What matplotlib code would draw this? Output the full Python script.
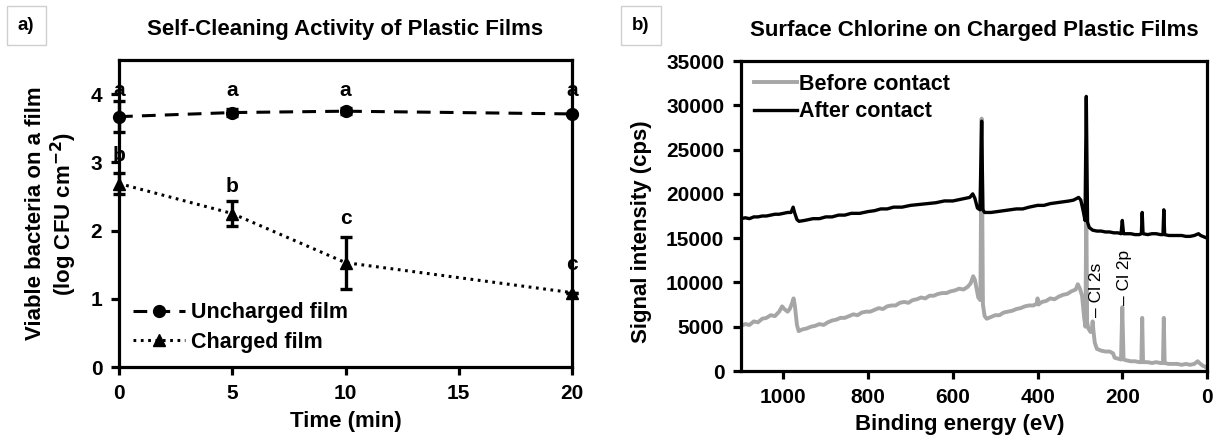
import matplotlib.pyplot as plt
import numpy as np

plt.rcParams['font.family'] = ['Liberation Sans', 'DejaVu Sans']
plt.rcParams['font.weight'] = 'bold'
plt.rcParams['axes.labelweight'] = 'bold'
plt.rcParams['mathtext.default'] = 'bf'

# (a) viable bacteria vs. contact time
time_min = [0, 5, 10, 20]
uncharged = [3.67, 3.73, 3.75, 3.71]
uncharged_err = [0.23, 0.05, 0.04, 0.0]
charged = [2.69, 2.25, 1.53, 1.09]
charged_err = [0.15, 0.18, 0.38, 0.0]
letters_unch = ['a', 'a', 'a', 'a']
letters_unch_y = [4.05, 4.05, 4.05, 4.05]
letters_ch = ['b', 'b', 'c', 'c']
letters_ch_y = [3.1, 2.65, 2.17, 1.5]

# (b) XPS survey spectra, binding energy (eV) vs counts
be_before = [1100, 1090, 1080, 1070, 1060, 1050, 1040, 1030, 1020, 1010, 1003, 998, 990, 985,
             980, 976, 973, 968, 964, 955, 945, 935, 925, 915, 905, 895, 885, 875, 865, 855,
             845, 835, 825, 815, 805, 795, 785, 775, 765, 755, 745, 735, 725, 715, 705, 695,
             685, 675, 665, 655, 645, 635, 625, 615, 605, 595, 585, 575, 565, 558, 552, 548,
             540, 535, 532, 529, 525, 520, 510, 500, 490, 480, 470, 460, 450, 440, 430, 420,
             410, 402, 400, 398, 390, 380, 370, 360, 350, 340, 330, 320, 310, 305, 300, 295,
             290, 287, 285, 283, 280, 275, 272, 270, 268, 265, 260, 250, 240, 230, 222, 218,
             210, 203, 200, 197, 190, 180, 170, 160, 155, 153, 151, 140, 130, 120, 110, 104,
             102, 100, 90, 80, 70, 60, 50, 40, 30, 22, 18, 10, 5, 0]
cps_before = [5100, 5300, 5200, 5600, 5500, 5900, 6000, 6300, 6200, 6700, 7300, 7000, 6700, 7000,
              7600, 8200, 7400, 5200, 4500, 4700, 4800, 5000, 5100, 5300, 5200, 5500, 5700, 5800,
              6000, 6000, 6200, 6400, 6300, 6600, 6700, 6700, 6900, 7100, 7000, 7300, 7400, 7400,
              7700, 7800, 7700, 8000, 8100, 8300, 8200, 8500, 8500, 8700, 8800, 8800, 9000, 9100,
              9300, 9200, 9500, 9900, 10700, 10300, 8300, 8000, 28500, 7500, 6200, 5900, 6100,
              6300, 6300, 6600, 6700, 6800, 7000, 7100, 7300, 7400, 7400, 7600, 8200, 7500, 7800,
              7900, 8200, 8100, 8400, 8600, 8700, 9000, 9200, 9800, 9300, 8500, 6000, 5000, 19000,
              5500, 4800, 4400, 4600, 5600, 4500, 3200, 2500, 2300, 2200, 2200, 2000, 1500, 1400,
              1300, 7200, 1300, 1200, 1100, 1100, 1000, 1000, 6000, 1000, 1000, 900, 1000, 900,
              900, 6000, 900, 800, 800, 800, 700, 800, 700, 800, 1100, 900, 600, 500, 300]

be_after = [1100, 1090, 1080, 1070, 1060, 1050, 1040, 1030, 1020, 1010, 1000, 990, 982, 977,
            973, 968, 963, 950, 940, 930, 915, 900, 885, 870, 855, 840, 820, 800, 785, 770,
            755, 740, 720, 700, 680, 660, 640, 620, 600, 580, 560, 553, 548, 542, 536, 532,
            529, 525, 510, 495, 480, 465, 450, 435, 420, 400, 385, 370, 355, 340, 325, 315,
            303, 298, 292, 288, 285, 282, 278, 270, 260, 250, 240, 230, 220, 210, 203, 200,
            197, 190, 180, 170, 160, 155, 153, 151, 140, 130, 120, 110, 104, 102, 100, 90,
            80, 70, 60, 50, 40, 30, 20, 15, 10, 5, 0]
cps_after = [17200, 17300, 17200, 17400, 17400, 17500, 17500, 17600, 17700, 17700, 17800, 17900,
             17900, 18500, 17800, 17100, 16900, 17000, 17100, 17200, 17200, 17400, 17400, 17600,
             17600, 17800, 17800, 18000, 18100, 18300, 18300, 18500, 18500, 18700, 18800, 18900,
             19000, 19200, 19200, 19400, 19600, 20000, 19500, 18400, 18200, 28200, 18200, 17900,
             17900, 18000, 18100, 18200, 18300, 18300, 18500, 18700, 18700, 18900, 19000, 19100,
             19200, 19300, 19600, 19300, 18000, 17000, 31000, 16800, 16200, 15900, 15800, 15800,
             15700, 15700, 15600, 15600, 15500, 17000, 15500, 15500, 15500, 15400, 15400, 15500,
             17900, 15500, 15400, 15500, 15500, 15400, 15400, 18200, 15400, 15300, 15300, 15300,
             15300, 15200, 15200, 15300, 15500, 15300, 15200, 15100, 15000]

fig = plt.figure(figsize=(12.17, 4.44), dpi=100)

# ---------- panel a ----------
ax1 = fig.add_axes([0.0978, 0.1734, 0.3722, 0.6914])
ax1.errorbar(time_min, uncharged, yerr=uncharged_err, color='black', ls='none', marker='none',
             capsize=4, elinewidth=2.4, capthick=2.4, clip_on=False, zorder=3)
ax1.errorbar(time_min, charged, yerr=charged_err, color='black', ls='none', marker='none',
             capsize=4, elinewidth=2.4, capthick=2.4, clip_on=False, zorder=3)
ax1.plot(time_min, uncharged, color='black', ls=(0, (4.5, 3)), lw=2.2, marker='o', ms=8.5,
         clip_on=False, zorder=4, label='Uncharged film')
ax1.plot(time_min, charged, color='black', ls=(0, (0.9, 1.5)), lw=2.2, marker='^', ms=9,
         clip_on=False, zorder=4, label='Charged film')
for x, y, s in zip(time_min, letters_unch_y, letters_unch):
    ax1.text(x, y, s, ha='center', va='center', fontsize=15, fontweight='bold')
for x, y, s in zip(time_min, letters_ch_y, letters_ch):
    ax1.text(x, y, s, ha='center', va='center', fontsize=15, fontweight='bold')

ax1.set_xlim(0, 20)
ax1.set_ylim(0, 4.5)
ax1.set_xticks([0, 5, 10, 15, 20])
ax1.set_yticks([0, 1, 2, 3, 4])
ax1.set_xlabel('Time (min)', fontsize=16, labelpad=6)
ax1.set_ylabel('Viable bacteria on a film\n(log CFU cm$^{-2}$)', fontsize=16, labelpad=8,
               linespacing=1.15)
ax1.set_title('Self-Cleaning Activity of Plastic Films', fontsize=16, fontweight='bold', pad=18)
ax1.legend(loc='lower left', frameon=False, fontsize=15.5, handlelength=2.4, handletextpad=0.3,
           borderaxespad=0.25, labelspacing=0.4)

# ---------- panel b ----------
ax2 = fig.add_axes([0.6089, 0.1644, 0.3829, 0.6982])
ax2.plot(be_before, cps_before, color='#a6a6a6', lw=2.8, label='Before contact')
ax2.plot(be_after, cps_after, color='black', lw=2.4, label='After contact')
ax2.text(262, 6100, '– Cl 2s', rotation=90, ha='center', va='bottom', fontsize=12.5,
         fontweight='normal')
ax2.text(195, 7500, '– Cl 2p', rotation=90, ha='center', va='bottom', fontsize=12.5,
         fontweight='normal')

ax2.set_xlim(1100, 0)
ax2.set_ylim(0, 35000)
ax2.set_xticks([1000, 800, 600, 400, 200, 0])
ax2.set_yticks(np.arange(0, 35001, 5000))
ax2.set_xlabel('Binding energy (eV)', fontsize=16, labelpad=6)
ax2.set_ylabel('Signal intensity (cps)', fontsize=16, labelpad=8)
ax2.xaxis.set_label_coords(0.47, -0.14)
ax2.yaxis.set_label_coords(-0.19, 0.45)
ax2.set_title('Surface Chlorine on Charged Plastic Films', fontsize=16, fontweight='bold',
              pad=18)
ax2.legend(loc='upper left', frameon=False, fontsize=15.5, handlelength=2.0, handletextpad=0.1,
           borderaxespad=0.2, labelspacing=0.3)

for ax in (ax1, ax2):
    for sp in ax.spines.values():
        sp.set_linewidth(2.3)
    ax.tick_params(direction='out', length=6, width=2.3, labelsize=15, pad=6)
    for lab in ax.get_xticklabels() + ax.get_yticklabels():
        lab.set_fontweight('bold')

# panel letters
fig.text(0.0215, 0.943, 'a)', fontsize=13.5, fontweight='bold', ha='center', va='center',
         bbox=dict(boxstyle='square,pad=0.6', fc='white', ec='#cfcfcf', lw=1))
fig.text(0.5265, 0.943, 'b)', fontsize=13.5, fontweight='bold', ha='center', va='center',
         bbox=dict(boxstyle='square,pad=0.6', fc='white', ec='#cfcfcf', lw=1))

fig.savefig('out.png', dpi=100)
